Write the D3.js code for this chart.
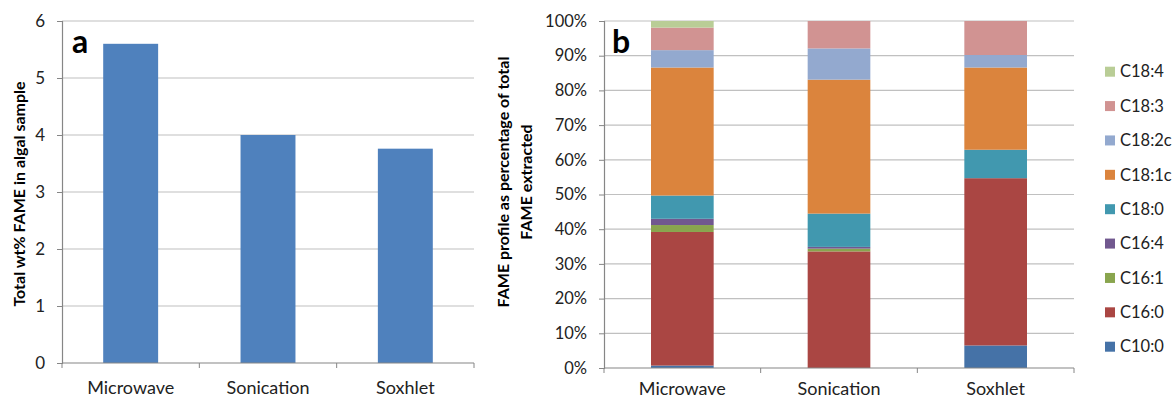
<!DOCTYPE html>
<html><head><meta charset="utf-8">
<script src="https://cdn.jsdelivr.net/npm/d3@7"></script>
<style>body{margin:0;background:#fff}svg{display:block}text{font-family:Lato,"Liberation Sans",Arial,sans-serif}</style>
</head><body><svg id="c" width="1173" height="400"></svg>
<script>
const categories = ["Microwave","Sonication","Soxhlet"];
const totalFame = [5.6, 4.0, 3.76];
const ticksA = [0,1,2,3,4,5,6];
const fameSeries = ["C10:0","C16:0","C16:1","C16:4","C18:0","C18:1c","C18:2c","C18:3","C18:4"];
const microwave  = [0.7, 38.5, 2.0, 1.8, 6.7, 36.9, 5.0, 6.5, 1.9];
const sonication = [0.0, 33.6, 0.8, 0.5, 9.6, 38.6, 9.0, 7.9, 0.0];
const soxhlet    = [6.5, 48.2, 0.0, 0.0, 8.2, 23.7, 3.6, 9.8, 0.0];
const seriesColors = ["#4572A7","#AA4643","#89A54E","#71588F","#4198AF","#DB843D","#93A9CF","#D19392","#B9CD96"];
const ticksB = [0,10,20,30,40,50,60,70,80,90,100];

const svg = d3.select("#c");
const gridC = "#c0c0c0", axisC = "#868686", txtC = "#222";
const FONT = "Lato, Liberation Sans, Arial, sans-serif";

function styleAxis(a, size){
  a.select(".domain").attr("stroke",axisC).attr("stroke-width",1.2);
  a.selectAll("line").attr("stroke",axisC);
  a.selectAll("text").attr("fill",txtC).style("font-size",size+"px").style("font-family",FONT);
}

// ---- Chart a ----
(function(){
  const L=62, R=474, T=21, B=363;
  const x = d3.scaleBand().domain(categories).range([L,R]).paddingInner(0.6).paddingOuter(0.3);
  const xb = d3.scaleBand().domain(categories).range([L,R]).padding(0);
  const y = d3.scaleLinear().domain([0,6]).range([B,T]);
  const g = svg.append("g");
  g.selectAll(".grid").data(ticksA.filter(d=>d>0)).join("line")
    .attr("x1",L).attr("x2",R).attr("y1",d=>y(d)).attr("y2",d=>y(d)).attr("stroke",gridC).attr("stroke-width",1.2);
  g.selectAll("rect").data(categories).join("rect")
    .attr("x",d=>x(d)).attr("width",x.bandwidth())
    .attr("y",(d,i)=>y(totalFame[i])).attr("height",(d,i)=>B-y(totalFame[i]))
    .attr("fill","#4F81BD");
  const ya = g.append("g").attr("transform",`translate(${L},0)`).call(d3.axisLeft(y).tickValues(ticksA).tickFormat(d3.format("d")).tickSize(5).tickPadding(12));
  const xa = g.append("g").attr("transform",`translate(0,${B})`).call(d3.axisBottom(xb).tickSize(0).tickPadding(18));
  styleAxis(ya,17); styleAxis(xa,18);
  xa.select(".domain").attr("d",`M${L},0H${R}`);
  g.append("g").selectAll("line").data([...categories.map(c=>xb(c)), R]).join("line")
    .attr("x1",d=>d).attr("x2",d=>d).attr("y1",B).attr("y2",B+5).attr("stroke",axisC);
  g.append("text").attr("x",72).attr("y",53).text("a").attr("font-weight","bold").attr("font-size",32).attr("fill","#000");
  g.append("text").attr("transform","translate(25,194) rotate(-90)").attr("text-anchor","middle")
    .attr("font-weight","bold").attr("font-size",16).attr("fill","#000").text("Total wt% FAME in algal sample");
})();

// ---- Chart b ----
(function(){
  const L=604, R=1074, T=21, B=368;
  const x = d3.scaleBand().domain(categories).range([L,R]).paddingInner(0.6).paddingOuter(0.3);
  const xb = d3.scaleBand().domain(categories).range([L,R]).padding(0);
  const y = d3.scaleLinear().domain([0,100]).range([B,T]);
  const rows = categories.map((c,i)=>{const v=[microwave,sonication,soxhlet][i];const o={cat:c};fameSeries.forEach((s,j)=>o[s]=v[j]);return o;});
  const stack = d3.stack().keys(fameSeries)(rows);
  const g = svg.append("g");
  g.selectAll(".grid").data(ticksB.filter(d=>d>0)).join("line")
    .attr("x1",L).attr("x2",R).attr("y1",d=>y(d)).attr("y2",d=>y(d)).attr("stroke",gridC).attr("stroke-width",1.2);
  g.selectAll("g.s").data(stack).join("g").attr("fill",(d,i)=>seriesColors[i])
    .selectAll("rect").data(d=>d).join("rect")
    .attr("x",d=>x(d.data.cat)).attr("width",x.bandwidth())
    .attr("y",d=>y(d[1])).attr("height",d=>y(d[0])-y(d[1]));
  const ya = g.append("g").attr("transform",`translate(${L},0)`).call(d3.axisLeft(y).tickValues(ticksB).tickFormat(d=>d+"%").tickSize(5).tickPadding(12));
  const xa = g.append("g").attr("transform",`translate(0,${B})`).call(d3.axisBottom(xb).tickSize(0).tickPadding(14));
  styleAxis(ya,16.5); styleAxis(xa,18);
  xa.select(".domain").attr("d",`M${L},0H${R}`);
  g.append("g").selectAll("line").data([...categories.map(c=>xb(c)), R]).join("line")
    .attr("x1",d=>d).attr("x2",d=>d).attr("y1",B).attr("y2",B+5).attr("stroke",axisC);
  g.append("text").attr("x",612).attr("y",53).text("b").attr("font-weight","bold").attr("font-size",32).attr("fill","#000");
  const t = g.append("text").attr("transform","translate(509,182) rotate(-90)").attr("text-anchor","middle")
    .attr("font-weight","bold").attr("font-size",16).attr("fill","#000");
  t.append("tspan").attr("x",0).attr("dy",0).text("FAME profile as percentage of total");
  t.append("tspan").attr("x",0).attr("dy",23).text("FAME extracted");
  // legend
  const leg = g.append("g");
  const order = fameSeries.map((s,i)=>i).reverse();
  const ly = d3.scalePoint().domain(order).range([71.7,346.7]);
  const items = leg.selectAll("g").data(order).join("g").attr("transform",d=>`translate(1105,${ly(d)})`);
  items.append("rect").attr("x",0).attr("y",-5).attr("width",10).attr("height",10).attr("fill",d=>seriesColors[d]);
  items.append("text").attr("x",15).attr("y",0).attr("dy","0.35em").attr("font-size",16.5).attr("fill",txtC).text(d=>fameSeries[d]);
})();
</script></body></html>
